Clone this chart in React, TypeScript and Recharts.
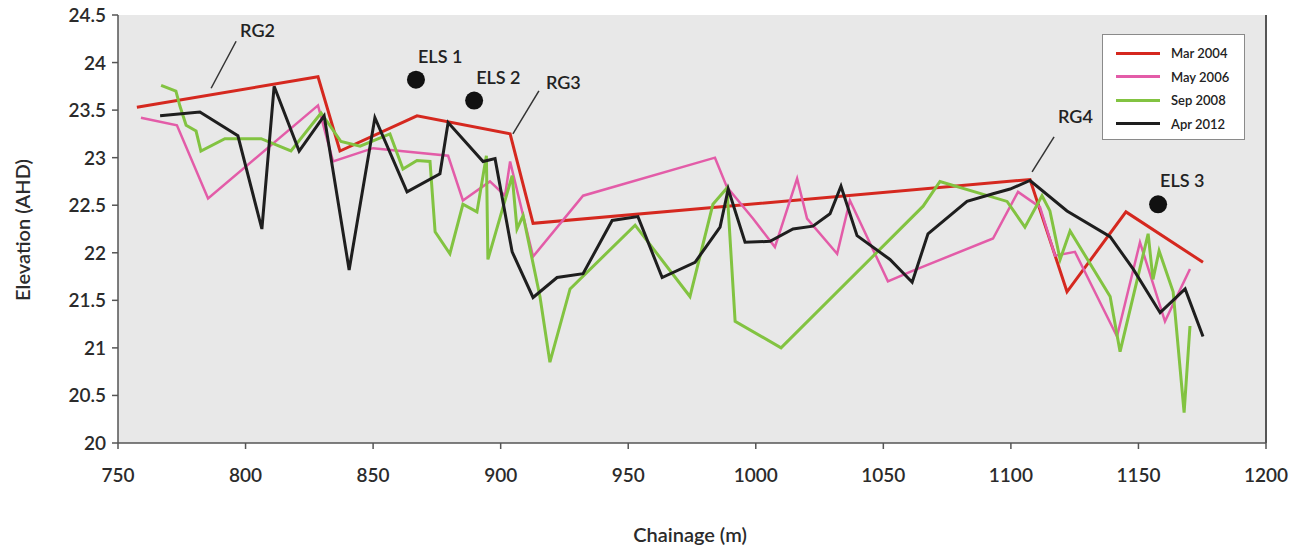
import React from "react";
import {
  ComposedChart,
  Line,
  Scatter,
  XAxis,
  YAxis,
  CartesianGrid,
  ReferenceLine,
  Label,
} from "recharts";

// chainage (m) / elevation (AHD) per survey
const mar2004Chainage = [757.4, 828.4, 837.0, 867.2, 903.7, 912.7, 1107.5, 1122.0, 1145.1, 1175.3];
const mar2004Elevation = [23.53, 23.85, 23.07, 23.44, 23.25, 22.31, 22.77, 21.59, 22.43, 21.9];

const may2006Chainage = [
  759.0, 773.1, 785.3, 828.4, 834.3, 850.0, 879.4, 885.2, 895.8, 901.7, 903.7, 912.7, 932.3, 984.0,
  988.7, 998.9, 1007.5, 1016.2, 1020.1, 1031.9, 1036.9, 1051.8, 1060.5, 1093.0, 1102.8, 1111.4,
  1117.3, 1125.1, 1141.6, 1150.6, 1160.4, 1170.2,
];
const may2006Elevation = [
  23.42, 23.34, 22.57, 23.55, 22.96, 23.1, 23.02, 22.55, 22.75, 22.6, 22.96, 21.96, 22.6, 23.0,
  22.69, 22.36, 22.06, 22.78, 22.36, 21.99, 22.55, 21.7, 21.8, 22.15, 22.64, 22.48,
  21.97, 22.01, 21.12, 22.11, 21.28, 21.83,
];

const sep2008Chainage = [
  766.9, 772.7, 774.3, 776.7, 780.6, 782.5, 791.9, 806.1, 817.8, 829.6, 837.4, 844.9, 856.6, 861.7,
  867.2, 872.3, 874.3, 880.1, 885.2, 890.7, 894.4, 895.0, 904.5, 906.4, 908.8, 915.4, 919.3, 927.2,
  952.7, 974.2, 983.2, 988.7, 991.9, 1009.9, 1065.6, 1072.2, 1098.5, 1105.5, 1112.2, 1115.3, 1119.3,
  1123.2, 1138.9, 1142.8, 1153.8, 1155.7, 1158.1, 1163.6, 1167.9, 1170.2,
];
const sep2008Elevation = [
  23.76, 23.7, 23.54, 23.34, 23.28, 23.07, 23.2, 23.2, 23.07, 23.47, 23.17, 23.12, 23.25, 22.88,
  22.97, 22.96, 22.22, 21.99, 22.51, 22.43, 23.02, 21.93, 22.81, 22.25, 22.39, 21.54, 20.85, 21.62,
  22.29, 21.54, 22.51, 22.68, 21.28, 21.0, 22.49, 22.75, 22.54, 22.27, 22.6, 22.44, 21.93,
  22.23, 21.54, 20.96, 22.2, 21.72, 22.02, 21.59, 20.32, 21.23,
];

const apr2012Chainage = [
  766.5, 782.1, 797.0, 806.4, 811.2, 821.0, 830.8, 840.6, 850.7, 863.3, 876.2, 879.4, 893.1, 897.8,
  904.5, 912.7, 922.1, 932.3, 943.7, 953.8, 963.3, 976.2, 986.0, 989.2, 995.8, 1005.6, 1014.6,
  1022.4, 1029.1, 1033.4, 1039.7, 1052.6, 1061.3, 1067.5, 1082.8, 1093.0, 1099.7, 1107.5, 1122.0,
  1138.9, 1147.9, 1158.5, 1168.3, 1175.3,
];
const apr2012Elevation = [
  23.44, 23.48, 23.23, 22.25, 23.75, 23.07, 23.44, 21.82, 23.42, 22.64, 22.83, 23.37, 22.96, 22.99,
  22.01, 21.53, 21.74, 21.78, 22.34, 22.38, 21.74, 21.9, 22.27, 22.67, 22.11, 22.12, 22.25,
  22.28, 22.41, 22.7, 22.18, 21.93, 21.69, 22.2, 22.54, 22.62, 22.67, 22.76, 22.44,
  22.17, 21.83, 21.37, 21.62, 21.12,
];

const elsLabels = ["ELS 1", "ELS 2", "ELS 3"];
const elsChainage = [866.8, 889.6, 1157.7];
const elsElevation = [23.82, 23.6, 22.51];

const rgLabels = ["RG2", "RG3", "RG4"];
const rgChainage = [786.5, 904.8, 1108.3];
const rgElevation = [23.73, 23.25, 22.85];

const xTicks = [750, 800, 850, 900, 950, 1000, 1050, 1100, 1150, 1200];
const yTicks = [20, 20.5, 21, 21.5, 22, 22.5, 23, 23.5, 24, 24.5];

const zip = (xs: number[], ys: number[]) => xs.map((x, i) => ({ x, y: ys[i] }));

const series = [
  { name: "Mar 2004", color: "#d5281f", width: 3, data: zip(mar2004Chainage, mar2004Elevation) },
  { name: "May 2006", color: "#e35ca8", width: 2.5, data: zip(may2006Chainage, may2006Elevation) },
  { name: "Sep 2008", color: "#82c341", width: 3, data: zip(sep2008Chainage, sep2008Elevation) },
  { name: "Apr 2012", color: "#1e1e1e", width: 3, data: zip(apr2012Chainage, apr2012Elevation) },
];

const els = elsLabels.map((label, i) => ({ label, x: elsChainage[i], y: elsElevation[i] }));
const rg = rgLabels.map((label, i) => ({ label, x: rgChainage[i], y: rgElevation[i] }));

// leader line end and text offset (px) for each RG callout
const rgOffsets: Record<string, { lx: number; ly: number; tx: number; ty: number }> = {
  RG2: { lx: 25, ly: -47, tx: 4, ty: -4 },
  RG3: { lx: 26, ly: -43, tx: 7, ty: -2 },
  RG4: { lx: 22, ly: -35, tx: 4, ty: -14 },
};

const FONT = "Lato, 'Open Sans', sans-serif";

const XTick = ({ x, y, payload }: any) => (
  <text x={x} y={y + 31} textAnchor="middle" fontFamily={FONT} fontSize={19} fontWeight={600} fill="#2b2b2b">
    {payload.value}
  </text>
);

const YTick = ({ x, y, payload }: any) => (
  <text x={x - 4} y={y + 7} textAnchor="end" fontFamily={FONT} fontSize={19} fontWeight={600} fill="#2b2b2b">
    {payload.value}
  </text>
);

const ElsShape = ({ cx, cy, payload }: any) => (
  <g>
    <circle cx={cx} cy={cy} r={9} fill="#111" />
    <text x={cx + 2} y={cy - 17} fontFamily={FONT} fontSize={18} fontWeight={600} fill="#222">
      {payload.label}
    </text>
  </g>
);

const RgShape = ({ cx, cy, payload }: any) => {
  const o = rgOffsets[payload.label];
  const ex = cx + o.lx;
  const ey = cy + o.ly;
  return (
    <g>
      <line x1={cx} y1={cy} x2={ex} y2={ey} stroke="#333" strokeWidth={1.5} />
      <text x={ex + o.tx} y={ey + o.ty} fontFamily={FONT} fontSize={18} fontWeight={600} fill="#222">
        {payload.label}
      </text>
    </g>
  );
};

function LegendBox() {
  return (
    <div
      style={{
        position: "absolute",
        left: 1102,
        top: 34,
        width: 143,
        height: 106,
        background: "#fff",
        border: "1.5px solid #8a8a8a",
        boxSizing: "border-box",
        fontFamily: FONT,
        fontSize: 13,
        fontWeight: 600,
        color: "#222",
      }}
    >
      {series.map((s, i) => (
        <div
          key={s.name}
          style={{ position: "absolute", top: 10 + i * 23.5, left: 13, display: "flex", alignItems: "center" }}
        >
          <span style={{ display: "inline-block", width: 44, height: 3, background: s.color }} />
          <span style={{ marginLeft: 11 }}>{s.name}</span>
        </div>
      ))}
    </div>
  );
}

export default function App() {
  return (
    <div style={{ position: "absolute", left: 0, top: 0, width: 1293, height: 546, background: "#fff" }}>
      <ComposedChart width={1293} height={546} margin={{ top: 15, right: 27, bottom: 43, left: 0 }}>
        <CartesianGrid fill="#e8e8e8" stroke="none" />
        <XAxis
          type="number"
          dataKey="x"
          domain={[750, 1200]}
          ticks={xTicks}
          allowDataOverflow
          height={60}
          stroke="#555"
          strokeWidth={1.5}
          tickSize={6}
          tick={<XTick />}
        >
          <Label
            content={() => (
              <text x={690} y={542} textAnchor="middle" fontFamily={FONT} fontSize={20} fontWeight={600} fill="#2b2b2b">
                Chainage (m)
              </text>
            )}
          />
        </XAxis>
        <YAxis
          type="number"
          dataKey="y"
          domain={[20, 24.5]}
          ticks={yTicks}
          allowDataOverflow
          width={118}
          stroke="#555"
          strokeWidth={1.5}
          tickSize={6}
          tick={<YTick />}
        >
          <Label
            content={() => (
              <text
                x={22}
                y={230}
                textAnchor="middle"
                transform="rotate(-90 22 230)"
                dominantBaseline="central"
                fontFamily={FONT}
                fontSize={20}
                fontWeight={600}
                fill="#2b2b2b"
              >
                Elevation (AHD)
              </text>
            )}
          />
        </YAxis>
        <ReferenceLine x={1200} stroke="#555" strokeWidth={2} />
        {series.map((s) => (
          <Line
            key={s.name}
            data={s.data}
            dataKey="y"
            name={s.name}
            type="linear"
            stroke={s.color}
            strokeWidth={s.width}
            dot={false}
            activeDot={false}
            isAnimationActive={false}
          />
        ))}
        <Scatter data={rg} dataKey="y" shape={<RgShape />} isAnimationActive={false} />
        <Scatter data={els} dataKey="y" shape={<ElsShape />} isAnimationActive={false} />
      </ComposedChart>
      <LegendBox />
    </div>
  );
}
